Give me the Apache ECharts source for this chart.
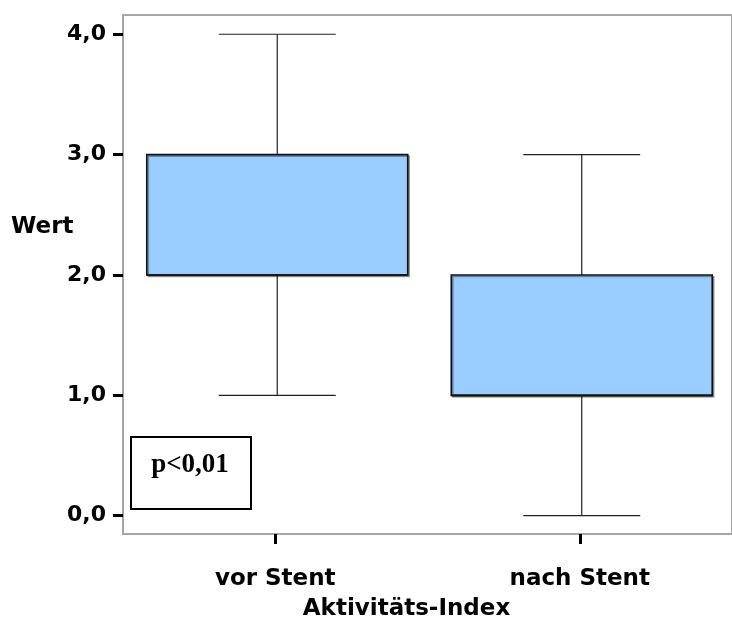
<!DOCTYPE html>
<html>
<head>
<meta charset="utf-8">
<script src="https://cdn.jsdelivr.net/npm/echarts@6/dist/echarts.min.js"></script>
<style>
  html, body { margin: 0; padding: 0; background: #fff; }
  #chart { width: 732px; height: 633px; }
</style>
</head>
<body>
<div id="chart"></div>
<script>
// Aktivitäts-Index vor / nach Stent: five-number summaries per group
const categories = ['vor Stent', 'nach Stent'];
const whiskerLow = [1, 0];
const quartile1 = [2, 1];
const medians = [2, 1];
const quartile3 = [3, 2];
const whiskerHigh = [4, 3];
const yTickValues = [0, 1, 2, 3, 4];
const yTickLabels = ['0,0', '1,0', '2,0', '3,0', '4,0'];
const yTitle = 'Wert';
const xTitle = 'Aktivitäts-Index';
const pValueText = 'p<0,01';

const boxData = categories.map((c, i) => [
  i, whiskerLow[i], quartile1[i], medians[i], quartile3[i], whiskerHigh[i]
]);

const labelFont = 'DejaVu Sans';

function renderBox(params, api) {
  const idx = api.value(0);
  const band = api.size([1, 0])[0];
  const cx = api.coord([idx, 0])[0] + 2;
  const yLo = api.coord([idx, api.value(1)])[1];
  const yQ1 = api.coord([idx, api.value(2)])[1];
  const yMed = api.coord([idx, api.value(3)])[1];
  const yQ3 = api.coord([idx, api.value(4)])[1];
  const yHi = api.coord([idx, api.value(5)])[1];
  const halfBox = band * 0.857 / 2;
  const halfCap = band * 0.384 / 2;
  const wStyle = { stroke: '#222', lineWidth: 1.2 };
  const line = (x1, y1, x2, y2, style) => ({
    type: 'line', shape: { x1, y1, x2, y2 }, style
  });
  return {
    type: 'group',
    children: [
      line(cx, yHi, cx, yQ3, wStyle),
      line(cx, yQ1, cx, yLo, wStyle),
      line(cx - halfCap, yHi, cx + halfCap, yHi, wStyle),
      line(cx - halfCap, yLo, cx + halfCap, yLo, wStyle),
      {
        type: 'rect',
        shape: { x: cx - halfBox, y: yQ3, width: halfBox * 2, height: yQ1 - yQ3 },
        style: {
          fill: '#99ccff', stroke: '#111', lineWidth: 1.6,
          shadowColor: 'rgba(0,0,0,0.35)', shadowOffsetX: 1.5, shadowOffsetY: 1.5, shadowBlur: 0
        }
      },
      line(cx - halfBox, yMed, cx + halfBox, yMed, { stroke: '#111', lineWidth: 1.6 })
    ]
  };
}

const chart = echarts.init(document.getElementById('chart'));
chart.setOption({
  animation: false,
  backgroundColor: '#ffffff',
  grid: {
    left: 123, top: 15, width: 614, bottom: 99,
    show: true, borderColor: '#a6a6a6', borderWidth: 2, backgroundColor: 'transparent'
  },
  xAxis: {
    type: 'category',
    data: categories,
    boundaryGap: true,
    axisLine: { show: false, onZero: false },
    axisTick: { show: true, alignWithLabel: true, length: 10, lineStyle: { color: '#000', width: 3 } },
    axisLabel: { margin: 34, color: '#000', fontFamily: labelFont, fontWeight: 'bold', fontSize: 23 },
    splitLine: { show: false },
    name: xTitle,
    nameLocation: 'middle',
    nameGap: 64,
    nameTextStyle: { color: '#000', fontFamily: labelFont, fontWeight: 'bold', fontSize: 23, padding: [0, 42, 0, 0] }
  },
  yAxis: {
    type: 'value',
    min: -0.152,
    max: 4.16,
    axisLine: { show: false },
    axisTick: { show: true, length: 10, customValues: yTickValues, lineStyle: { color: '#000', width: 3 } },
    axisLabel: {
      margin: 17, color: '#000', fontFamily: labelFont, fontWeight: 'bold', fontSize: 22,
      customValues: yTickValues,
      formatter: (v) => yTickLabels[yTickValues.indexOf(Math.round(v))]
    },
    splitLine: { show: false }
  },
  series: [{
    type: 'custom',
    renderItem: renderBox,
    data: boxData,
    encode: { x: 0, y: [1, 2, 3, 4, 5] },
    clip: false
  }],
  graphic: [
    {
      type: 'text', left: 11, top: 216,
      style: { text: yTitle, fill: '#000', font: 'bold 23px "DejaVu Sans"' }
    },
    {
      type: 'group',
      left: 130, top: 436,
      children: [
        { type: 'rect', shape: { x: 0, y: 0, width: 120, height: 72 },
          style: { fill: '#fff', stroke: '#000', lineWidth: 2 } },
        { type: 'text', x: 59, y: 28,
          style: { text: pValueText, fill: '#000', font: 'bold 27px "Liberation Serif"', align: 'center', verticalAlign: 'middle' } }
      ]
    }
  ]
});
</script>
</body>
</html>
